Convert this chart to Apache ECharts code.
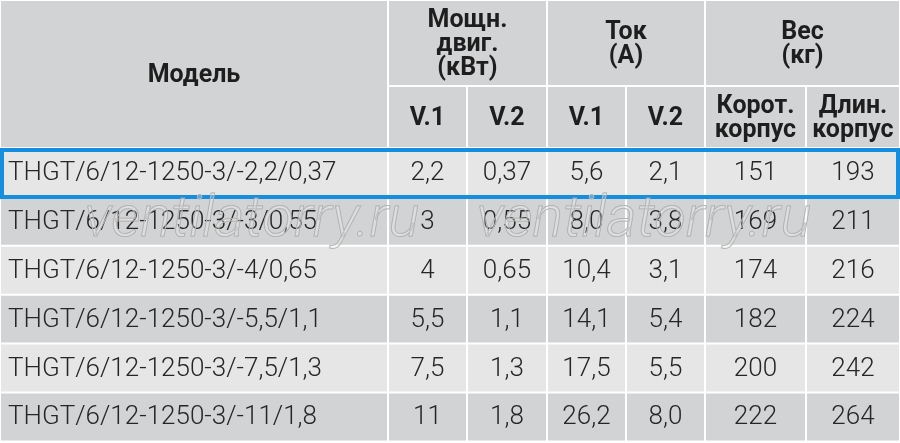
<!DOCTYPE html>
<html>
<head>
<meta charset="utf-8">
<script src="https://cdn.jsdelivr.net/npm/echarts@6/dist/echarts.min.js"></script>
<style>
    html, body { margin: 0; padding: 0; background: #fff; }
    #tableChart { width: 900px; height: 443px; }
</style>
</head>
<body>
<div id="tableChart"></div>
<script>
// данные таблицы
var models = [
    'THGT/6/12-1250-3/-2,2/0,37',
    'THGT/6/12-1250-3/-3/0,55',
    'THGT/6/12-1250-3/-4/0,65',
    'THGT/6/12-1250-3/-5,5/1,1',
    'THGT/6/12-1250-3/-7,5/1,3',
    'THGT/6/12-1250-3/-11/1,8'
];
var powerV1 = [2.2, 3, 4, 5.5, 7.5, 11];
var powerV2 = [0.37, 0.55, 0.65, 1.1, 1.3, 1.8];
var currentV1 = [5.6, 8.0, 10.4, 14.1, 17.5, 26.2];
var currentV2 = [2.1, 3.8, 3.1, 5.4, 5.5, 8.0];
var weightShort = [151, 169, 174, 182, 200, 222];
var weightLong = [193, 211, 216, 224, 242, 264];

var modelHeader = 'Модель';
var groupHeaders = ['Мощн.\nдвиг.\n(кВт)', 'Ток\n(А)', 'Вес\n(кг)'];
var subHeaders = ['V.1', 'V.2', 'V.1', 'V.2', 'Корот.\nкорпус', 'Длин.\nкорпус'];
var highlightRows = [0];
var watermark = 'ventilatorry.ru';

// разметка
var colEdges = [0, 388, 467, 547, 626, 705, 806, 900];
var headEdges = [0, 86, 148];
var rowH = 48.9;
var FONT = "Roboto, 'Noto Sans', sans-serif";

function comma(v) {
    return String(v).replace('.', ',');
}
function fixed1(v) {
    return v.toFixed(1).replace('.', ',');
}

var columns = [
    models,
    powerV1.map(comma),
    powerV2.map(comma),
    currentV1.map(fixed1),
    currentV2.map(fixed1),
    weightShort.map(String),
    weightLong.map(String)
];

var cellData = [];
for (var r = 0; r < models.length; r++) {
    for (var c = 0; c < columns.length; c++) {
        cellData.push([c, r]);
    }
}

// ячейки заголовка: [колонка от, колонка до, строка от, строка до]
var headData = [[0, 1, 0, 2]];
var headTexts = [modelHeader];
for (var g = 0; g < groupHeaders.length; g++) {
    headData.push([1 + g * 2, 3 + g * 2, 0, 1]);
    headTexts.push(groupHeaders[g]);
}
for (var s = 0; s < subHeaders.length; s++) {
    headData.push([1 + s, 2 + s, 1, 2]);
    headTexts.push(subHeaders[s]);
}

function cellBox(api, x0, x1, y0, y1) {
    var p0 = api.coord([x0, y0]);
    var p1 = api.coord([x1, y1]);
    return { x: p0[0] + 1, y: p0[1] + 1, width: p1[0] - p0[0] - 2, height: p1[1] - p0[1] - 2 };
}

var myChart = echarts.init(document.getElementById('tableChart'));
var option = {
    backgroundColor: '#ffffff',
    animation: false,
    grid: { left: 0, right: 0, top: 0, bottom: 0 },
    xAxis: { type: 'value', min: 0, max: 900, show: false },
    yAxis: { type: 'value', min: 0, max: 443, inverse: true, show: false },
    series: [
        {
            name: 'head',
            type: 'custom',
            data: headData,
            renderItem: function (params, api) {
                var box = cellBox(api, colEdges[api.value(0)], colEdges[api.value(1)],
                    headEdges[api.value(2)], headEdges[api.value(3)]);
                return {
                    type: 'group',
                    children: [
                        { type: 'rect', shape: box, style: { fill: '#d2d3d5' } },
                        {
                            type: 'text',
                            style: {
                                text: headTexts[params.dataIndex],
                                x: box.x + box.width / 2,
                                y: box.y + box.height / 2 + 2,
                                align: 'center',
                                verticalAlign: 'middle',
                                font: 'bold 25px ' + FONT,
                                lineHeight: 24,
                                fill: '#1e1e1e'
                            }
                        }
                    ]
                };
            }
        },
        {
            name: 'cells',
            type: 'custom',
            data: cellData,
            renderItem: function (params, api) {
                var c = api.value(0);
                var r = api.value(1);
                var y0 = headEdges[2] + r * rowH;
                var box = cellBox(api, colEdges[c], colEdges[c + 1], y0, y0 + rowH);
                var left = c === 0;
                return {
                    type: 'group',
                    children: [
                        { type: 'rect', shape: box, style: { fill: r % 2 === 0 ? '#e6e6e6' : '#d2d3d5' } },
                        {
                            type: 'text',
                            style: {
                                text: columns[c][r],
                                x: left ? box.x + 7 : box.x + box.width / 2,
                                y: box.y + box.height / 2 + 1,
                                align: left ? 'left' : 'center',
                                verticalAlign: 'middle',
                                font: '300 26px ' + FONT,
                                fill: '#262626'
                            }
                        }
                    ]
                };
            }
        },
        {
            name: 'highlight',
            type: 'custom',
            data: highlightRows.map(function (r) { return [0, r]; }),
            z: 5,
            renderItem: function (params, api) {
                var r = api.value(1);
                var y0 = headEdges[2] + r * rowH;
                var p0 = api.coord([colEdges[0], y0]);
                var p1 = api.coord([colEdges[colEdges.length - 1], y0 + rowH]);
                return {
                    type: 'rect',
                    shape: { x: p0[0] + 2, y: p0[1] + 2, width: p1[0] - p0[0] - 4, height: p1[1] - p0[1] - 2 },
                    style: { fill: 'none', stroke: '#168ee0', lineWidth: 4 }
                };
            }
        }
    ],
    graphic: [
        {
            type: 'text', left: 84, top: 192, z: 10, silent: true,
            style: { text: watermark, font: 'italic 300 58px ' + FONT, fill: 'rgba(255,255,255,0.25)', stroke: '#a9a9a9', lineWidth: 1 }
        },
        {
            type: 'text', left: 476, top: 192, z: 10, silent: true,
            style: { text: watermark, font: 'italic 300 58px ' + FONT, fill: 'rgba(255,255,255,0.25)', stroke: '#a9a9a9', lineWidth: 1 }
        }
    ]
};
myChart.setOption(option);
</script>
</body>
</html>
